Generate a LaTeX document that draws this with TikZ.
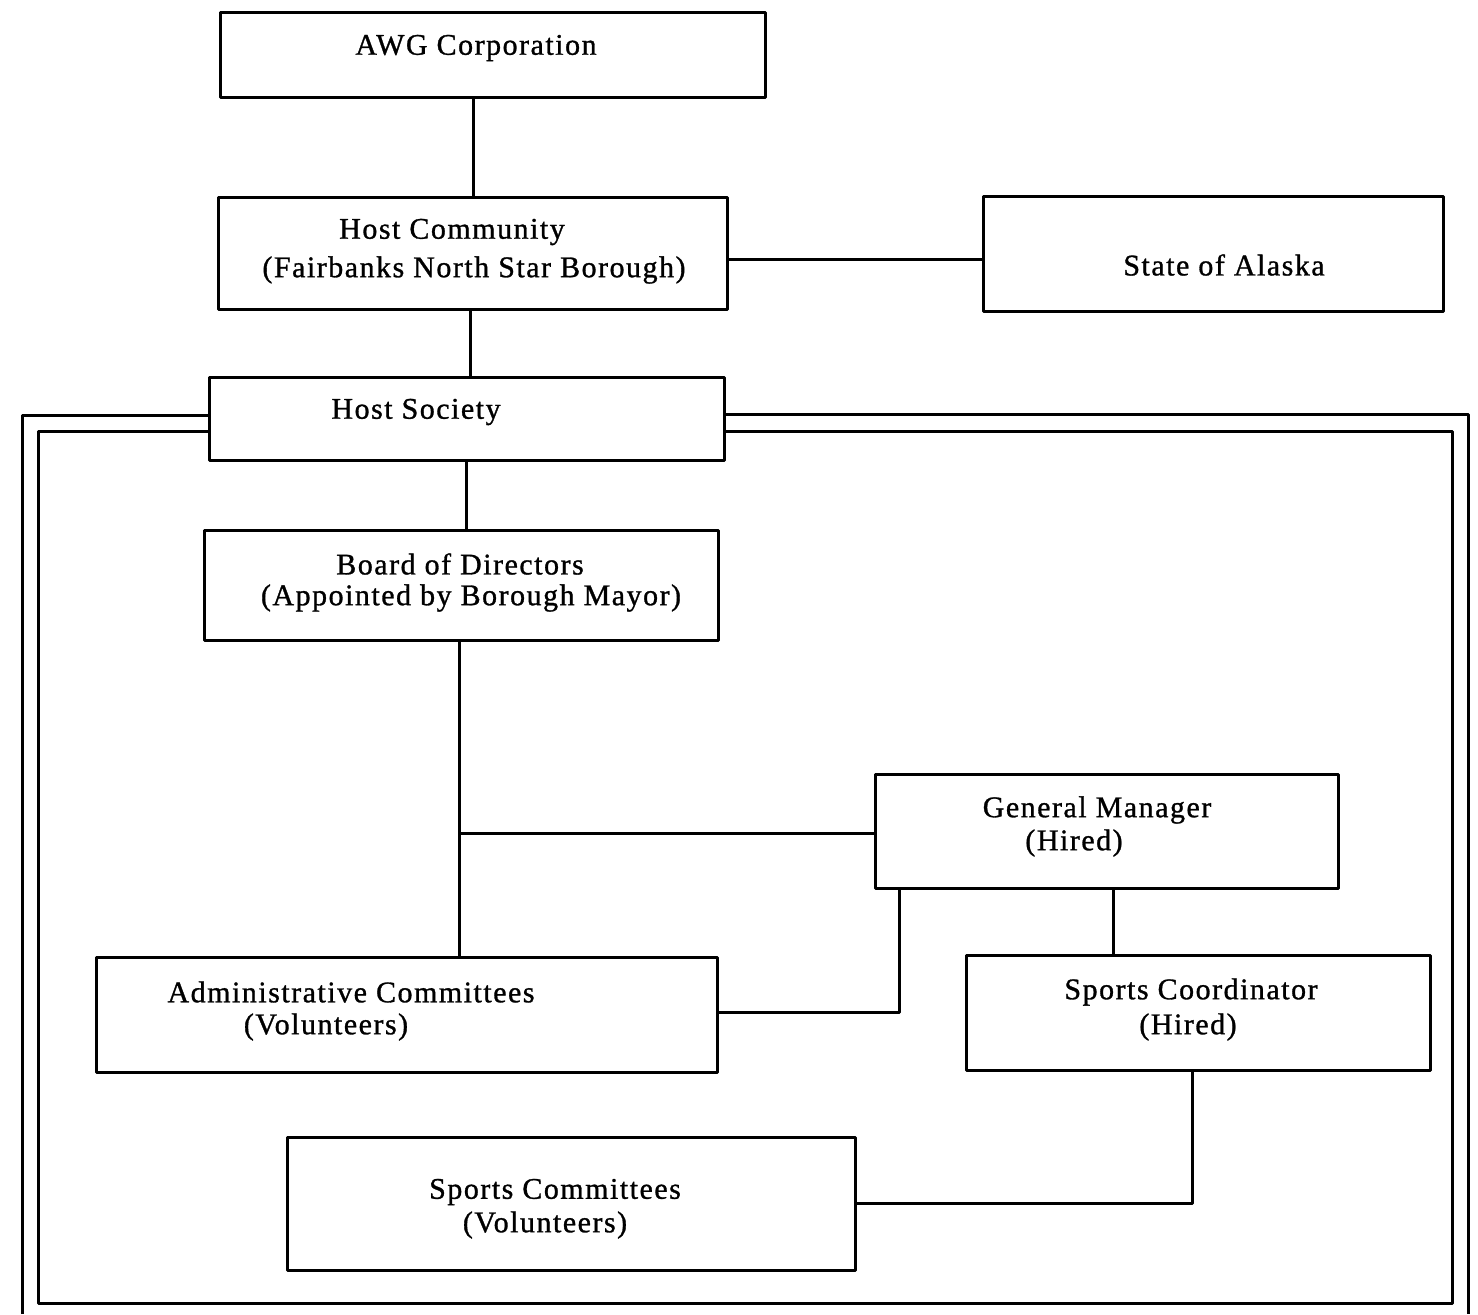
\documentclass[tikz,border=0pt]{standalone}
\usepackage{fontspec}
\setmainfont{Liberation Serif}[LetterSpace=5,FakeBold=1]
\usetikzlibrary{fit,calc}
\begin{document}
\begin{tikzpicture}[x=0.5pt,y=-0.5pt,
  line join=round,
  box/.style={draw, inner sep=0pt, line width=1.5pt},
  conn/.style={draw, line width=1.5pt},
  frame/.style={draw, line width=1.5pt},
  txt/.style={inner sep=0pt, font=\fontsize{15}{17}\selectfont}]
\useasboundingbox (0,0) rectangle (1478,1314);

% boxes
\node[box, fit={(220,12) (765,97)}] (awg) {};
\node[box, fit={(218,197) (727,309)}] (hc) {};
\node[box, fit={(983,196) (1443,311)}] (sa) {};
\node[box, fit={(209,377) (724,460)}] (hs) {};
\node[box, fit={(204,530) (718,640)}] (bd) {};
\node[box, fit={(875,774) (1338,888)}] (gm) {};
\node[box, fit={(96,957) (717,1072)}] (ad) {};
\node[box, fit={(966,955) (1430,1070)}] (sc) {};
\node[box, fit={(287,1137) (855,1270)}] (spc) {};

% texts
\node[txt] (awg-t) at (476,48) {AWG Corporation};
\node[txt] (hc-t1) at (452,232) {Host Community};
\node[txt] (hc-t2) at (474,270) {(Fairbanks North Star Borough)};
\node[txt] (sa-t) at (1224,265) {State of Alaska};
\node[txt] (hs-t) at (416,412) {Host Society};
\node[txt] (bd-t1) at (460,564) {Board of Directors};
\node[txt] (bd-t2) at (471,598) {(Appointed by Borough Mayor)};
\node[txt] (gm-t1) at (1097,810) {General Manager};
\node[txt] (gm-t2) at (1074,843) {(Hired)};
\node[txt] (ad-t1) at (351,992) {Administrative Committees};
\node[txt] (ad-t2) at (326,1027) {(Volunteers)};
\node[txt] (sc-t1) at (1191,992) {Sports Coordinator};
\node[txt] (sc-t2) at (1188,1027) {(Hired)};
\node[txt] (spc-t1) at (555,1192) {Sports Committees};
\node[txt] (spc-t2) at (545,1225) {(Volunteers)};

% connectors
\draw[conn] ($(awg.south)+(-9.75pt,0)$) coordinate (c1) -- (c1 |- hc.north);
\draw[conn] ($(hc.east)+(0,-3pt)$) coordinate (c2) -- (c2 -| sa.west);
\draw[conn] ($(hc.south)+(-1.25pt,0)$) coordinate (c3) -- (c3 |- hs.north);
\draw[conn] ($(hs.south)+(-0.25pt,0)$) coordinate (c4) -- (c4 |- bd.north);
\draw[conn] ($(bd.south)+(-1pt,0)$) coordinate (c5) -- (c5 |- ad.north);
\draw[conn] ($(gm.west)+(0,-1pt)$) coordinate (c9) -- (c9 -| c5);
\draw[conn] ($(gm.south)+(-103.75pt,0)$) coordinate (c6) |- ($(ad.east)+(0,1pt)$);
\draw[conn] ($(gm.south)+(3.25pt,0)$) coordinate (c7) -- (c7 |- sc.north);
\draw[conn] ($(sc.south)+(-3pt,0)$) coordinate (c8) |- (spc.east);

% double frame around the host society
\coordinate (fo) at (22,415);
\coordinate (fi) at (38,431);
\draw[frame] (22,1314) -- (fo) -- (fo -| hs.west);
\draw[frame] (hs.east |- 0,414) -- (1468,414) -- (1468,1314);
\draw[frame] (fi -| hs.west) -- (fi) -- (38,1303) -- (1452,1303) -- (1452,431) -- (hs.east |- 0,431);
\end{tikzpicture}
\end{document}
